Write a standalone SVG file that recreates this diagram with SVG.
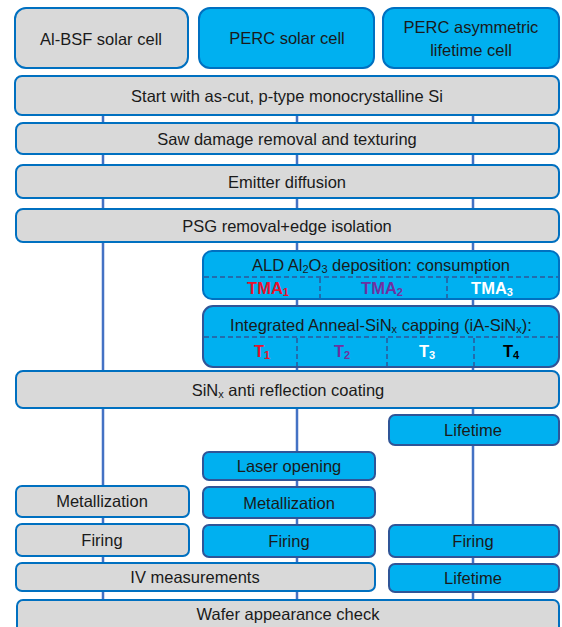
<svg xmlns="http://www.w3.org/2000/svg" width="562" height="627" viewBox="0 0 562 627">
<style>
.g{fill:#D9D9D9;stroke:#0070C0;stroke-width:2}
.b{fill:#00B0F0;stroke:#0070C0;stroke-width:2}
.bd{fill:#00B0F0;stroke:#2F5597;stroke-width:2}
.t{font-family:"Liberation Sans",Arial,sans-serif;font-size:16.5px;fill:#1a1a1a;text-anchor:middle;dominant-baseline:central}
.s{font-size:11px}
.d{stroke:#2F5597;stroke-width:1.5;stroke-dasharray:5,3;fill:none}
.lab{font-weight:bold}
.c{stroke:#4472C4;stroke-width:2.5;fill:none}
</style>
<g id="connectors">
<line class="c" x1="103" y1="115" x2="103" y2="600"/>
<line class="c" x1="297" y1="115" x2="297" y2="600"/>
<line class="c" x1="473" y1="115" x2="473" y2="600"/>
</g>
<g id="hdr1"><rect class="g" x="15" y="8" width="173" height="60" rx="11"/><text class="t" x="101" y="39">Al-BSF solar cell</text></g>
<g id="hdr2"><rect class="b" x="199" y="8" width="175" height="60" rx="11"/><text class="t" x="287" y="38">PERC solar cell</text></g>
<g id="hdr3"><rect class="b" x="383" y="8" width="176" height="60" rx="11"/><text class="t" x="471" y="27">PERC asymmetric</text><text class="t" x="471" y="50">lifetime cell</text></g>
<g id="start"><rect class="g" x="15" y="76" width="544" height="39" rx="7"/><text class="t" x="287" y="96">Start with as-cut, p-type monocrystalline Si</text></g>
<g id="saw"><rect class="g" x="16" y="123" width="543" height="31" rx="7"/><text class="t" x="287" y="139">Saw damage removal and texturing</text></g>
<g id="emitter"><rect class="g" x="16" y="165" width="543" height="33" rx="7"/><text class="t" x="287" y="182">Emitter diffusion</text></g>
<g id="psg"><rect class="g" x="16" y="209" width="543" height="33" rx="7"/><text class="t" x="287" y="226">PSG removal+edge isolation</text></g>
<g id="ald"><rect class="b" x="203" y="251" width="356" height="48" rx="9"/>
<line class="d" x1="204" y1="277" x2="558" y2="277"/>
<line class="d" x1="320" y1="278" x2="320" y2="298"/>
<line class="d" x1="447" y1="278" x2="447" y2="298"/>
<text class="t" x="381" y="265">ALD Al<tspan class="s" dy="4">2</tspan><tspan dy="-4">O</tspan><tspan class="s" dy="4">3</tspan><tspan dy="-4"> deposition: consumption</tspan></text>
<text class="t lab" x="268" y="288" style="fill:#E8112D">TMA<tspan class="s" dy="4">1</tspan></text>
<text class="t lab" x="382" y="288" style="fill:#7030A0">TMA<tspan class="s" dy="4">2</tspan></text>
<text class="t lab" x="492" y="288" style="fill:#FFFFFF">TMA<tspan class="s" dy="4">3</tspan></text>
</g>
<g id="anneal"><rect class="bd" x="203" y="306" width="356" height="61" rx="10"/>
<line class="d" x1="204" y1="337" x2="558" y2="337"/>
<line class="d" x1="297" y1="338" x2="297" y2="366"/>
<line class="d" x1="387" y1="338" x2="387" y2="366"/>
<line class="d" x1="474" y1="338" x2="474" y2="366"/>
<text class="t" x="381" y="325">Integrated Anneal-SiN<tspan class="s" dy="4">x</tspan><tspan dy="-4"> capping (iA-SiN</tspan><tspan class="s" dy="4">x</tspan><tspan dy="-4">):</tspan></text>
<text class="t lab" x="262" y="351" style="fill:#E8112D">T<tspan class="s" dy="4">1</tspan></text>
<text class="t lab" x="342" y="351" style="fill:#7030A0">T<tspan class="s" dy="4">2</tspan></text>
<text class="t lab" x="427" y="351" style="fill:#FFFFFF">T<tspan class="s" dy="4">3</tspan></text>
<text class="t lab" x="511" y="351" style="fill:#000000">T<tspan class="s" dy="4">4</tspan></text>
</g>
<g id="arc"><rect class="g" x="16" y="371" width="543" height="37" rx="7"/><text class="t" x="288" y="390">SiN<tspan class="s" dy="4">x</tspan><tspan dy="-4"> anti reflection coating</tspan></text></g>
<g id="lifetime1"><rect class="bd" x="389" y="415" width="170" height="30" rx="6"/><text class="t" x="473" y="430">Lifetime</text></g>
<g id="laser"><rect class="bd" x="203" y="452" width="172" height="28" rx="6"/><text class="t" x="289" y="466">Laser opening</text></g>
<g id="met1"><rect class="g" x="16" y="486" width="173" height="31" rx="6"/><text class="t" x="102" y="501">Metallization</text></g>
<g id="met2"><rect class="bd" x="203" y="487" width="172" height="31" rx="6"/><text class="t" x="289" y="503">Metallization</text></g>
<g id="fire1"><rect class="g" x="16" y="524" width="173" height="32" rx="6"/><text class="t" x="102" y="540">Firing</text></g>
<g id="fire2"><rect class="bd" x="203" y="525" width="172" height="32" rx="6"/><text class="t" x="289" y="541">Firing</text></g>
<g id="fire3"><rect class="bd" x="389" y="525" width="170" height="32" rx="6"/><text class="t" x="473" y="541">Firing</text></g>
<g id="iv"><rect class="g" x="16" y="563" width="359" height="28" rx="6"/><text class="t" x="195" y="577">IV measurements</text></g>
<g id="lifetime2"><rect class="bd" x="389" y="564" width="170" height="28" rx="6"/><text class="t" x="473" y="578">Lifetime</text></g>
<g id="wafer"><rect class="g" x="17" y="600" width="542" height="34" rx="6"/><text class="t" x="288" y="614">Wafer appearance check</text></g>
</svg>
